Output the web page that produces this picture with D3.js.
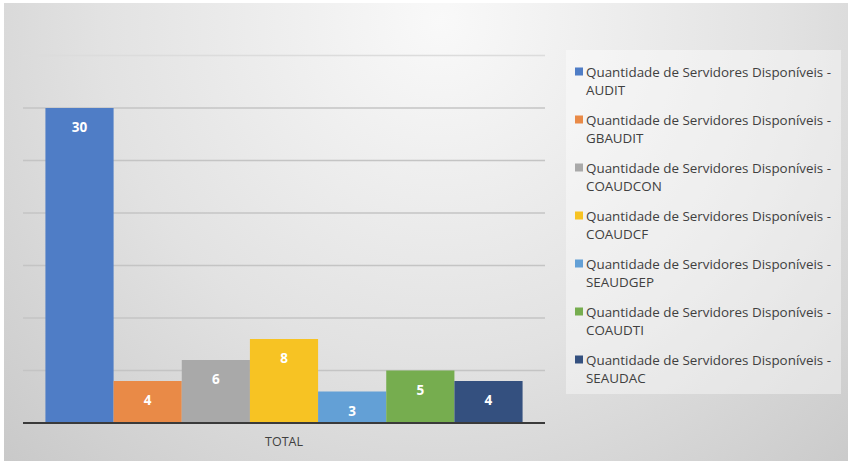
<!DOCTYPE html>
<html>
<head>
<meta charset="utf-8">
<script src="https://cdn.jsdelivr.net/npm/d3@7"></script>
<style>
body { margin: 0; background: #fff; }
svg { display: block; font-family: "Open Sans", sans-serif; }
</style>
</head>
<body>
<svg class="bar-chart"></svg>
<script>
var categories = ["TOTAL"];
var seriesNames = ["AUDIT", "GBAUDIT", "COAUDCON", "COAUDCF", "SEAUDGEP", "COAUDTI", "SEAUDAC"];
var seriesValues = [30, 4, 6, 8, 3, 5, 4];
var seriesColors = ["#4f7dc6", "#e98a47", "#a9a9a9", "#f7c323", "#63a0d6", "#76ad4f", "#34507f"];
var yTicks = [0, 5, 10, 15, 20, 25, 30, 35];
var legendPrefix = "Quantidade de Servidores Disponíveis -";

var svgWidth = 850, svgHeight = 463;
var plot = { left: 23, right: 545, top: 55.5, bottom: 423 };

var svg = d3.select(".bar-chart")
	.attr("width", svgWidth)
	.attr("height", svgHeight);

// background with soft light in the top middle
var defs = svg.append("defs");
var grad = defs.append("radialGradient")
	.attr("id", "bg")
	.attr("gradientUnits", "userSpaceOnUse")
	.attr("cx", 440).attr("cy", 20).attr("r", 620);
grad.append("stop").attr("offset", "0%").attr("stop-color", "#f9f9f9");
grad.append("stop").attr("offset", "55%").attr("stop-color", "#e2e2e2");
grad.append("stop").attr("offset", "100%").attr("stop-color", "#c9c9c9");

svg.append("rect")
	.attr("x", 4).attr("y", 3)
	.attr("width", 844).attr("height", 458)
	.attr("fill", "url(#bg)");

var y = d3.scaleLinear()
	.domain([0, 35])
	.range([plot.bottom, plot.top]);

var x0 = d3.scaleBand()
	.domain(categories)
	.range([plot.left, plot.right])
	.paddingOuter(0.047);

var x1 = d3.scaleBand()
	.domain(seriesNames)
	.range([0, x0.bandwidth()]);

// grid lines (top one is faint in the original)
svg.append("g")
	.selectAll("line")
	.data(yTicks.filter(function(d) { return d > 0; }))
	.enter().append("line")
	.attr("x1", plot.left)
	.attr("x2", plot.right)
	.attr("y1", function(d) { return y(d); })
	.attr("y2", function(d) { return y(d); })
	.attr("stroke", function(d) { return d === 35 ? "#dcdcdc" : "#c4c4c4"; })
	.attr("stroke-width", 1.5);

var group = svg.append("g")
	.selectAll("g")
	.data(categories)
	.enter().append("g")
	.attr("transform", function(d) { return "translate(" + x0(d) + ",0)"; });

var bars = group.selectAll("g")
	.data(seriesNames.map(function(n, i) { return { name: n, value: seriesValues[i], color: seriesColors[i] }; }))
	.enter().append("g");

bars.append("rect")
	.attr("x", function(d) { return x1(d.name); })
	.attr("width", x1.bandwidth())
	.attr("y", function(d) { return y(d.value); })
	.attr("height", function(d) { return y(0) - y(d.value); })
	.attr("fill", function(d) { return d.color; });

bars.append("text")
	.attr("x", function(d) { return x1(d.name) + x1.bandwidth() / 2; })
	.attr("y", function(d) { return y(d.value) + 24; })
	.attr("text-anchor", "middle")
	.attr("fill", "#ffffff")
	.attr("font-size", 13.5)
	.attr("font-weight", "bold")
	.text(function(d) { return d.value; });

// x axis
var xAxis = svg.append("g")
	.attr("transform", "translate(0," + plot.bottom + ")")
	.call(d3.axisBottom(x0).tickSize(0).tickPadding(14));
xAxis.select(".domain")
	.attr("stroke", "#3a3a3a")
	.attr("stroke-width", 2)
	.attr("d", "M" + plot.left + ",0H" + plot.right);
xAxis.selectAll("text")
	.attr("font-family", "Open Sans, sans-serif")
	.attr("font-size", 12.5)
	.attr("fill", "#404040");

// legend
var legend = svg.append("g");
legend.append("rect")
	.attr("x", 566).attr("y", 50)
	.attr("width", 275).attr("height", 344)
	.attr("fill", "#ffffff")
	.attr("fill-opacity", 0.4);

var item = legend.selectAll("g.item")
	.data(seriesNames)
	.enter().append("g")
	.attr("class", "item")
	.attr("transform", function(d, i) { return "translate(575," + (72 + i * 48) + ")"; });

item.append("rect")
	.attr("x", 0).attr("y", -4.5)
	.attr("width", 8).attr("height", 8)
	.attr("fill", function(d, i) { return seriesColors[i]; });

item.append("text")
	.attr("x", 11)
	.attr("y", 4.5)
	.attr("font-size", 13.4)
	.attr("fill", "#404040")
	.text(legendPrefix);

item.append("text")
	.attr("x", 11)
	.attr("y", 22.5)
	.attr("font-size", 13.4)
	.attr("fill", "#404040")
	.text(function(d) { return d; });
</script>
</body>
</html>
